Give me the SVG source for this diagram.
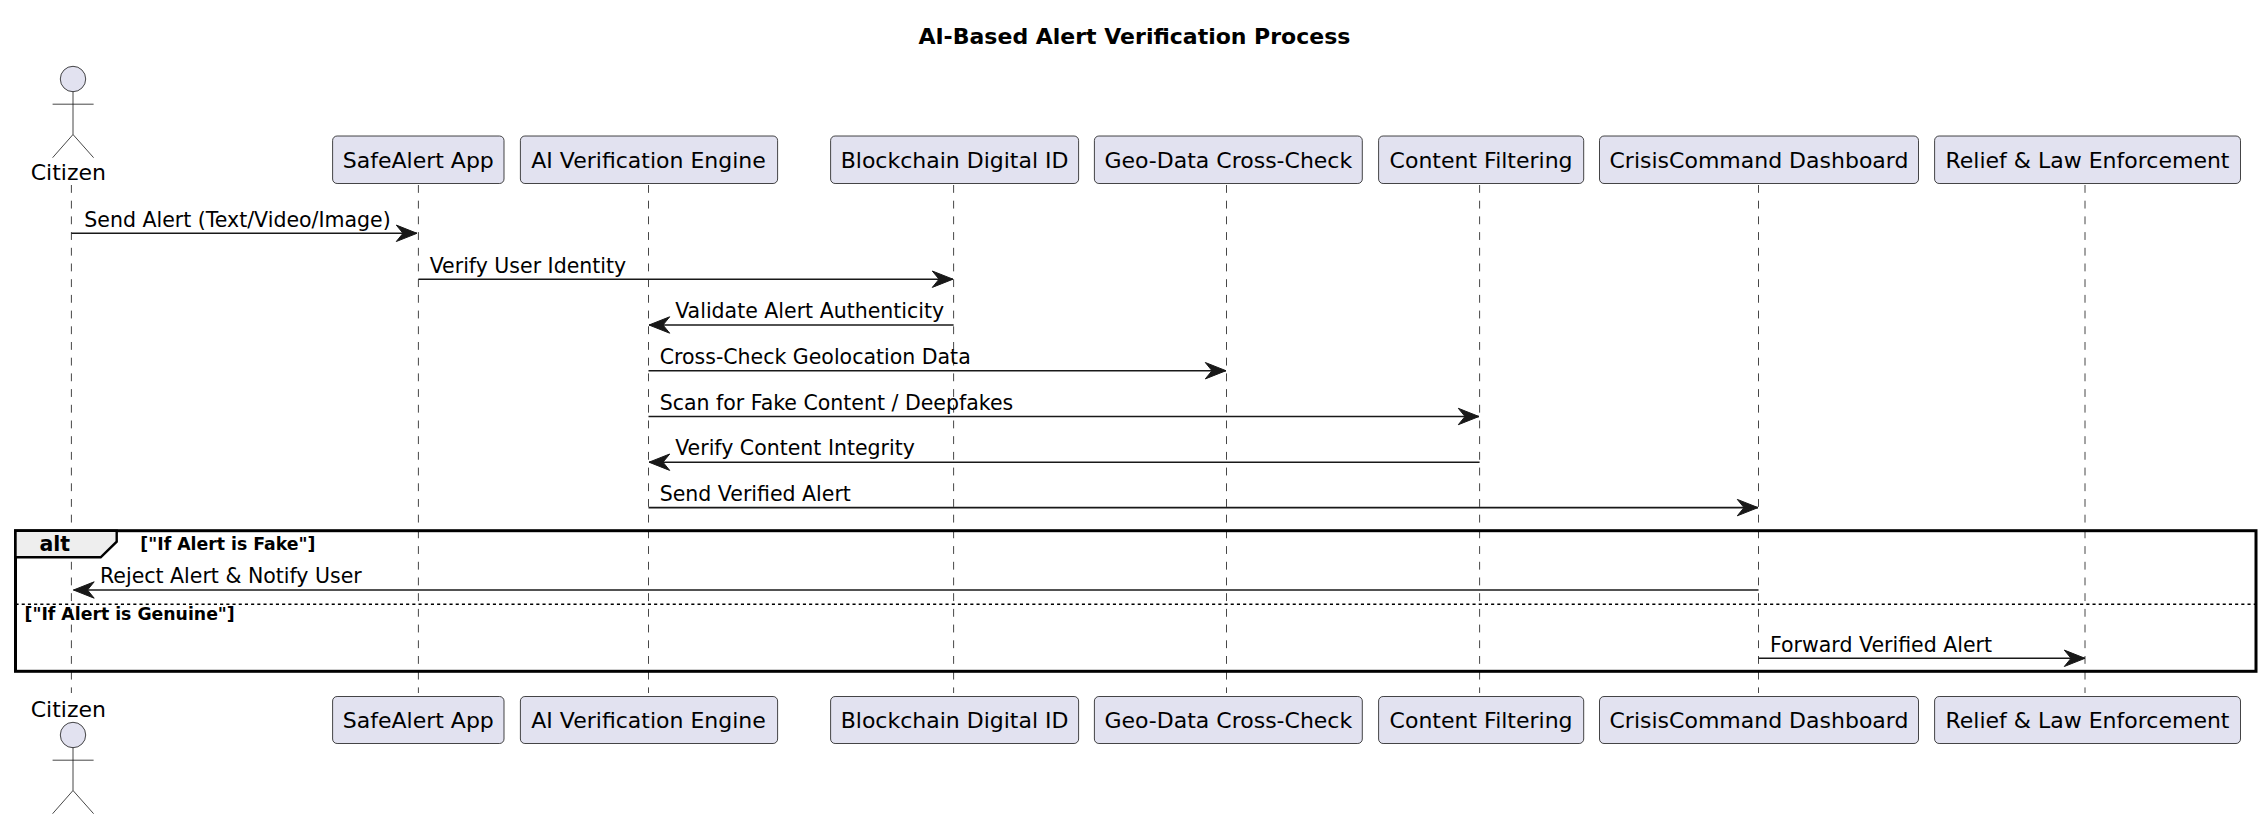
<svg xmlns="http://www.w3.org/2000/svg" width="2265" height="822" viewBox="0 0 2265 822">
<style>
text{font-family:"DejaVu Sans",sans-serif;fill:#000}
.n{font-size:22px;text-anchor:middle}
.m{font-size:20.5px}
.g{font-size:17.3px;font-weight:bold}
.box{fill:#E2E2F0;stroke:#181818;stroke-width:.8}
.life{stroke:#181818;stroke-width:.8;stroke-dasharray:7.85 7.85;fill:none}
.msg{stroke:#181818;stroke-width:1.6;fill:none;marker-end:url(#ah)}
.act{fill:#E2E2F0;stroke:#181818;stroke-width:.8}
.frame{fill:none;stroke:#000;stroke-width:3}
</style>
<defs>
<marker id="ah" markerUnits="userSpaceOnUse" markerWidth="24" markerHeight="20" refX="22" refY="10" orient="auto" overflow="visible">
<path d="M1.3,1.8 L22,10 L1.3,18.2 L8,10 Z" fill="#181818" stroke="#181818" stroke-width="1"/>
</marker>
<g id="stick">
<ellipse class="act" cx="0" cy="0" rx="12.7" ry="12.7"/>
<path class="act" style="fill:none" d="M0,12.7 V55.5 M-20.4,25.2 H20.6 M-20.4,78.7 L0,55.5 L20.6,78.7"/>
</g>
</defs>
<text id="title" x="1134.4" y="44" text-anchor="middle" style="font-size:22px;font-weight:bold">AI-Based Alert Verification Process</text>
<g id="lifelines">
<path class="life" d="M71.4,185V693"/>
<path class="life" d="M418.4,185V693"/>
<path class="life" d="M648.5,185V693"/>
<path class="life" d="M953.6,185V693"/>
<path class="life" d="M1226.5,185V693"/>
<path class="life" d="M1479.6,185V693"/>
<path class="life" d="M1758.5,185V693"/>
<path class="life" d="M2085,185V693"/>
</g>
<g id="frame">
<rect class="frame" x="15.5" y="530.7" width="2240.5" height="140.6"/>
<path d="M15.5,530.7 H116.7 V541.7 L100.7,557.3 H15.5 Z" fill="#EEEEEE" stroke="#000" stroke-width="2.4"/>
<path d="M15.5,604.3 H2256" stroke="#000" stroke-width="1.6" stroke-dasharray="3.1 3.1" fill="none"/>
<text x="39.5" y="551" style="font-size:20.5px;font-weight:bold">alt</text>
<text class="g" x="140.3" y="549.7">["If Alert is Fake"]</text>
<text class="g" x="24.5" y="620.3">["If Alert is Genuine"]</text>
</g>
<g id="connectors">
<line class="msg" x1="71.4" y1="233.3" x2="417" y2="233.3"/>
<line class="msg" x1="418.4" y1="279.2" x2="953" y2="279.2"/>
<line class="msg" x1="953.6" y1="325" x2="649" y2="325"/>
<line class="msg" x1="648.5" y1="370.7" x2="1226" y2="370.7"/>
<line class="msg" x1="648.5" y1="416.5" x2="1479" y2="416.5"/>
<line class="msg" x1="1479.6" y1="462.2" x2="649" y2="462.2"/>
<line class="msg" x1="648.5" y1="507.6" x2="1758" y2="507.6"/>
<line class="msg" x1="1758.5" y1="590" x2="73.5" y2="590"/>
<line class="msg" x1="1758.5" y1="658.3" x2="2085" y2="658.3"/>
</g>
<g id="labels">
<text class="m" x="84.3" y="226.8">Send Alert (Text/Video/Image)</text>
<text class="m" x="429.7" y="272.6">Verify User Identity</text>
<text class="m" x="675.2" y="318.2">Validate Alert Authenticity</text>
<text class="m" x="659.7" y="364">Cross-Check Geolocation Data</text>
<text class="m" x="659.7" y="409.8">Scan for Fake Content / Deepfakes</text>
<text class="m" x="675.2" y="455.4">Verify Content Integrity</text>
<text class="m" x="659.7" y="501">Send Verified Alert</text>
<text class="m" x="100" y="583">Reject Alert &amp; Notify User</text>
<text class="m" x="1770" y="651.6">Forward Verified Alert</text>
</g>
<g id="citizen">
<use href="#stick" x="73" y="79"/>
<text class="n" x="68.3" y="180.3">Citizen</text>
</g>
<g id="citizen-bottom">
<use href="#stick" x="73" y="735"/>
<text class="n" x="68.3" y="716.8">Citizen</text>
</g>
<g id="safealert">
<rect class="box" x="332.6" y="136" width="171.4" height="47.5" rx="4.5"/>
<text class="n" x="418.3" y="167.7">SafeAlert App</text>
</g>
<g id="ai-engine">
<rect class="box" x="520.4" y="136" width="257.2" height="47.5" rx="4.5"/>
<text class="n" x="648.6" y="167.7">AI Verification Engine</text>
</g>
<g id="blockchain">
<rect class="box" x="830.6" y="136" width="248" height="47.5" rx="4.5"/>
<text class="n" x="954.6" y="167.7">Blockchain Digital ID</text>
</g>
<g id="geo">
<rect class="box" x="1094.4" y="136" width="267.9" height="47.5" rx="4.5"/>
<text class="n" x="1228.3" y="167.7">Geo-Data Cross-Check</text>
</g>
<g id="content">
<rect class="box" x="1378.6" y="136" width="205.1" height="47.5" rx="4.5"/>
<text class="n" x="1481.1" y="167.7">Content Filtering</text>
</g>
<g id="crisis">
<rect class="box" x="1599.5" y="136" width="319" height="47.5" rx="4.5"/>
<text class="n" x="1759" y="167.7">CrisisCommand Dashboard</text>
</g>
<g id="relief">
<rect class="box" x="1934.6" y="136" width="305.9" height="47.5" rx="4.5"/>
<text class="n" x="2087.5" y="167.7">Relief &amp; Law Enforcement</text>
</g>
<g id="safealert-bottom">
<rect class="box" x="332.6" y="696.5" width="171.4" height="47" rx="4.5"/>
<text class="n" x="418.3" y="727.7">SafeAlert App</text>
</g>
<g id="ai-engine-bottom">
<rect class="box" x="520.4" y="696.5" width="257.2" height="47" rx="4.5"/>
<text class="n" x="648.6" y="727.7">AI Verification Engine</text>
</g>
<g id="blockchain-bottom">
<rect class="box" x="830.6" y="696.5" width="248" height="47" rx="4.5"/>
<text class="n" x="954.6" y="727.7">Blockchain Digital ID</text>
</g>
<g id="geo-bottom">
<rect class="box" x="1094.4" y="696.5" width="267.9" height="47" rx="4.5"/>
<text class="n" x="1228.3" y="727.7">Geo-Data Cross-Check</text>
</g>
<g id="content-bottom">
<rect class="box" x="1378.6" y="696.5" width="205.1" height="47" rx="4.5"/>
<text class="n" x="1481.1" y="727.7">Content Filtering</text>
</g>
<g id="crisis-bottom">
<rect class="box" x="1599.5" y="696.5" width="319" height="47" rx="4.5"/>
<text class="n" x="1759" y="727.7">CrisisCommand Dashboard</text>
</g>
<g id="relief-bottom">
<rect class="box" x="1934.6" y="696.5" width="305.9" height="47" rx="4.5"/>
<text class="n" x="2087.5" y="727.7">Relief &amp; Law Enforcement</text>
</g>
</svg>
